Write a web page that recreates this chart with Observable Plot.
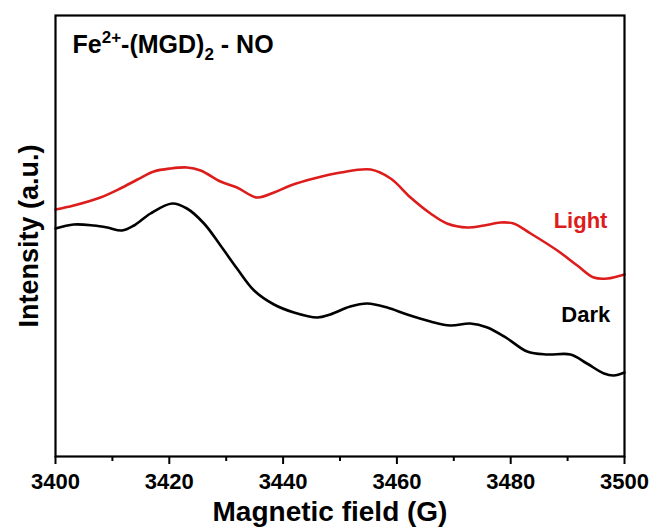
<!DOCTYPE html>
<html>
<head>
<meta charset="utf-8">
<script src="https://cdn.jsdelivr.net/npm/d3@7"></script>
<script src="https://cdn.jsdelivr.net/npm/@observablehq/plot@0.6"></script>
<style>
  html, body { margin: 0; padding: 0; background: #fff; }
  #chart svg { display: block; }
</style>
</head>
<body>
<div id="chart"></div>
<script>
// Magnetic field (G)
const lightField = [3400, 3403.2, 3407.9, 3411.4, 3414.4, 3417.3, 3420.2, 3423.1, 3425.5, 3429, 3431.9, 3435.4, 3438.4, 3441.3, 3445.4, 3450.1, 3455.4, 3458.9, 3462.4, 3465.9, 3468.8, 3472.4, 3475.3, 3478.2, 3480.5, 3483.5, 3488.2, 3491.7, 3494.6, 3497, 3500];
const lightIntensity = [2.47, 2.51, 2.59, 2.68, 2.77, 2.85, 2.88, 2.89, 2.86, 2.75, 2.69, 2.59, 2.64, 2.71, 2.78, 2.84, 2.87, 2.78, 2.59, 2.43, 2.33, 2.29, 2.31, 2.34, 2.33, 2.23, 2.06, 1.91, 1.79, 1.78, 1.82];

const darkField = [3400, 3403.2, 3406.7, 3409.1, 3411.7, 3413.8, 3416.7, 3420.5, 3423.1, 3426.1, 3429, 3431.9, 3434.9, 3438.4, 3441.9, 3446, 3448.3, 3451.8, 3454.8, 3458.3, 3461.8, 3465.9, 3469.4, 3472.9, 3475.9, 3479.4, 3482.9, 3486.4, 3490.5, 3493.4, 3496.4, 3498.1, 3500];
const darkIntensity = [2.28, 2.32, 2.31, 2.29, 2.26, 2.31, 2.43, 2.53, 2.48, 2.33, 2.11, 1.88, 1.66, 1.52, 1.44, 1.39, 1.42, 1.50, 1.53, 1.49, 1.42, 1.35, 1.31, 1.33, 1.29, 1.18, 1.05, 1.02, 1.02, 0.93, 0.83, 0.81, 0.84];

const majorTicks = [3400, 3420, 3440, 3460, 3480, 3500];
const majorTickLabels = ["3400", "3420", "3440", "3460", "3480", "3500"];
const minorTicks = [3410, 3430, 3450, 3470, 3490];

const seriesNames = ["Light", "Dark"];
const seriesColors = ["#dd1c1c", "#000000"];
const labelField = [3497, 3497.5];
const labelIntensity = [2.29, 1.35];

const titleText = "Fe2+-(MGD)2 - NO";
const xTitle = "Magnetic field (G)";
const yTitle = "Intensity (a.u.)";

const lightData = lightField.map((x, i) => ({x, y: lightIntensity[i]}));
const darkData = darkField.map((x, i) => ({x, y: darkIntensity[i]}));
const labelData = seriesNames.map((name, i) => ({name, x: labelField[i], y: labelIntensity[i], color: seriesColors[i]}));
const tickLabelData = majorTicks.map((x, i) => ({x, label: majorTickLabels[i]}));

const font = "'Liberation Sans', Arial, Helvetica, sans-serif";

const plot = Plot.plot({
  width: 651,
  height: 529,
  marginLeft: 55,
  marginRight: 27,
  marginTop: 15,
  marginBottom: 73,
  style: {fontFamily: font, fontWeight: "bold", background: "#fff", color: "#000"},
  x: {domain: [3400, 3500]},
  y: {domain: [0, 4.41]},
  marks: [
    Plot.axisY({ticks: [], label: null}),
    Plot.axisX({ticks: majorTicks, tickSize: 8, strokeWidth: 2, text: null, label: null}),
    Plot.axisX({ticks: minorTicks, tickSize: 5, strokeWidth: 2, text: null, label: null}),
    Plot.text(tickLabelData, {x: "x", text: "label", frameAnchor: "bottom", lineAnchor: "top", dy: 17, fontSize: 22, fontWeight: "bold", fill: "#000"}),
    Plot.line(lightData, {x: "x", y: "y", stroke: seriesColors[0], strokeWidth: 2.6, curve: "catmull-rom"}),
    Plot.line(darkData, {x: "x", y: "y", stroke: seriesColors[1], strokeWidth: 2.6, curve: "catmull-rom"}),
    Plot.text(labelData, {x: "x", y: "y", text: "name", fill: "color", textAnchor: "end", lineAnchor: "bottom", fontSize: 22, fontWeight: "bold"}),
    Plot.text([titleText], {frameAnchor: "top-left", dx: 17, dy: 37, textAnchor: "start", lineAnchor: "bottom", fontSize: 25, fontWeight: "bold", fill: "#000"}),
    Plot.text([xTitle], {frameAnchor: "bottom", dx: -10, dy: 64, lineAnchor: "bottom", fontSize: 28, fontWeight: "bold", fill: "#000"}),
    Plot.text([yTitle], {frameAnchor: "left", dx: -18, rotate: -90, textAnchor: "middle", lineAnchor: "bottom", fontSize: 27, fontWeight: "bold", fill: "#000"}),
    Plot.frame({stroke: "#000", strokeWidth: 2.2})
  ]
});

// Superscript / subscript formatting of the chart title
d3.select(plot).selectAll("text").filter(function() { return this.textContent === titleText; })
  .each(function() {
    const t = d3.select(this);
    t.text(null);
    t.append("tspan").text("Fe");
    t.append("tspan").attr("dy", -10).attr("font-size", 17).text("2+");
    t.append("tspan").attr("dy", 10).text("-(MGD)");
    t.append("tspan").attr("dy", 7).attr("font-size", 17).text("2");
    t.append("tspan").attr("dy", -7).text(" - NO");
  });

document.getElementById("chart").appendChild(plot);
</script>
</body>
</html>
